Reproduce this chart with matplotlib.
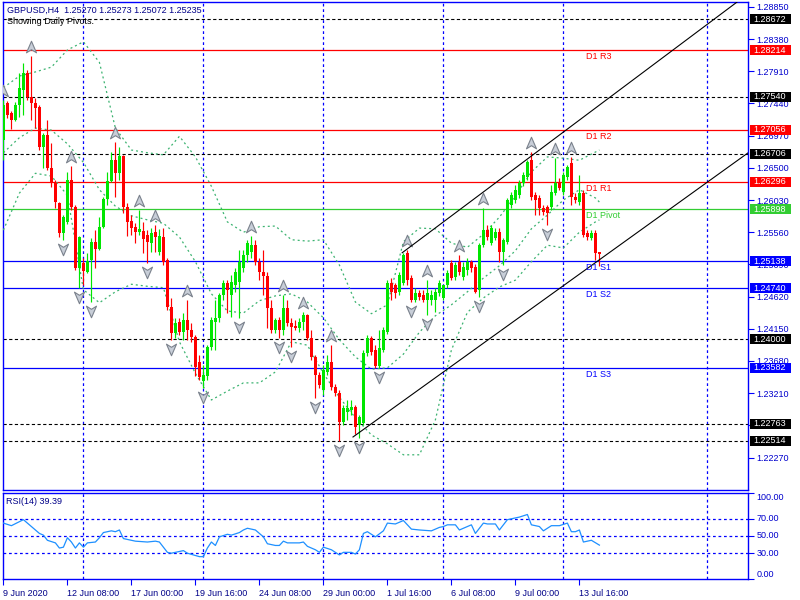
"""GBPUSD H4 chart with daily pivots, Bollinger bands, fractals, a price channel and RSI(14)."""

import matplotlib

matplotlib.use("Agg")
import matplotlib.pyplot as plt
import numpy as np
from matplotlib.patches import Rectangle
from matplotlib.path import Path
from matplotlib.transforms import blended_transform_factory, offset_copy

plt.rcParams["font.family"] = ["Liberation Sans", "DejaVu Sans"]

TITLE = "GBPUSD,H4  1.25270 1.25273 1.25072 1.25235"
SUBTITLE = "Showing Daily Pivots."
RSI_TITLE = "RSI(14) 39.39"

# H4 candles, 9 Jun 16:00 .. 14 Jul 12:00
opens = [
    1.2691, 1.2745, 1.2730, 1.2720, 1.2742, 1.2764, 1.2788, 1.2753, 1.2745, 1.2739,
    1.2680, 1.2698, 1.2650, 1.2628, 1.2599, 1.2555, 1.2571, 1.2632, 1.2593, 1.2504,
    1.2511, 1.2498, 1.2515, 1.2542, 1.2531, 1.2564, 1.2604, 1.2631, 1.2661, 1.2642,
    1.2667, 1.2593, 1.2572, 1.2564, 1.2556, 1.2558, 1.2552, 1.2540, 1.2556, 1.2527,
    1.2549, 1.2515, 1.2447, 1.2409, 1.2425, 1.2410, 1.2428, 1.2413, 1.2403, 1.2366,
    1.2339, 1.2346, 1.2388, 1.2425, 1.2431, 1.2464, 1.2482, 1.2464, 1.2479, 1.2483,
    1.2504, 1.2523, 1.2527, 1.2537, 1.2512, 1.2498, 1.2492, 1.2445, 1.2413, 1.2428,
    1.2413, 1.2445, 1.2423, 1.2419, 1.2416, 1.2425, 1.2435, 1.2402, 1.2374, 1.2348,
    1.2326, 1.2352, 1.2366, 1.2330, 1.2321, 1.2279, 1.2293, 1.2296, 1.2301, 1.2274,
    1.2277, 1.2380, 1.2402, 1.2384, 1.2361, 1.2384, 1.2410, 1.2482, 1.2479, 1.2469,
    1.2482, 1.2526, 1.2489, 1.2457, 1.2467, 1.2464, 1.2457, 1.2457, 1.2457, 1.2467,
    1.2460, 1.2479, 1.2511, 1.2491, 1.2512, 1.2491, 1.2501, 1.2512, 1.2505, 1.2472,
    1.2537, 1.2559, 1.2540, 1.2548, 1.2556, 1.2527, 1.2542, 1.2596, 1.2603, 1.2610,
    1.2628, 1.2637, 1.2661, 1.2610, 1.2606, 1.2591, 1.2593, 1.2593, 1.2613, 1.2628,
    1.2615, 1.2637, 1.2657, 1.2607, 1.2600, 1.2613, 1.2555, 1.2548, 1.2555, 1.25270,
]
highs = [
    1.2749, 1.2748, 1.2733, 1.2746, 1.2788, 1.2803, 1.2793, 1.2813, 1.2752, 1.2742,
    1.2701, 1.2720, 1.2686, 1.2632, 1.2600, 1.2581, 1.2644, 1.2653, 1.2596, 1.2550,
    1.2518, 1.2526, 1.2547, 1.2559, 1.2578, 1.2607, 1.2644, 1.2673, 1.2688, 1.2680,
    1.2669, 1.2599, 1.2581, 1.2569, 1.2588, 1.2571, 1.2559, 1.2562, 1.2566, 1.2561,
    1.2562, 1.2518, 1.2460, 1.2431, 1.2431, 1.2438, 1.2457, 1.2423, 1.2406, 1.2377,
    1.2362, 1.2391, 1.2432, 1.2457, 1.2467, 1.2486, 1.2486, 1.2494, 1.2504, 1.2530,
    1.2530, 1.2545, 1.2551, 1.2545, 1.2518, 1.2530, 1.2498, 1.2457, 1.2431, 1.2432,
    1.2464, 1.2457, 1.2431, 1.2428, 1.2431, 1.2439, 1.2437, 1.2413, 1.2377, 1.2352,
    1.2362, 1.2377, 1.2391, 1.2334, 1.2326, 1.2304, 1.2311, 1.2311, 1.2304, 1.2289,
    1.2384, 1.2406, 1.2404, 1.2391, 1.2413, 1.2418, 1.2486, 1.2489, 1.2482, 1.2498,
    1.2526, 1.2530, 1.2494, 1.2475, 1.2472, 1.2472, 1.2486, 1.2472, 1.2475, 1.2486,
    1.2479, 1.2501, 1.2515, 1.2512, 1.2523, 1.2512, 1.2518, 1.2515, 1.2510, 1.2540,
    1.2591, 1.2566, 1.2566, 1.2562, 1.2562, 1.2548, 1.2606, 1.2615, 1.2625, 1.2632,
    1.2644, 1.2661, 1.2673, 1.2615, 1.2610, 1.2596, 1.2596, 1.2625, 1.2664, 1.2635,
    1.2644, 1.2654, 1.2666, 1.2613, 1.2639, 1.2618, 1.2559, 1.2559, 1.2559, 1.25273,
]
lows = [
    1.2661, 1.2723, 1.2707, 1.2718, 1.2724, 1.2727, 1.2749, 1.2720, 1.2708, 1.2676,
    1.2650, 1.2647, 1.2622, 1.2591, 1.2549, 1.2545, 1.2568, 1.2588, 1.2501, 1.2475,
    1.2479, 1.2496, 1.2454, 1.2504, 1.2530, 1.2562, 1.2596, 1.2629, 1.2607, 1.2632,
    1.2584, 1.2550, 1.2552, 1.2540, 1.2552, 1.2526, 1.2511, 1.2527, 1.2527, 1.2523,
    1.2508, 1.2442, 1.2399, 1.2402, 1.2406, 1.2399, 1.2399, 1.2396, 1.2346, 1.2340,
    1.2329, 1.2340, 1.2384, 1.2384, 1.2425, 1.2457, 1.2438, 1.2432, 1.2469, 1.2431,
    1.2498, 1.2512, 1.2518, 1.2508, 1.2486, 1.2464, 1.2416, 1.2409, 1.2409, 1.2402,
    1.2406, 1.2419, 1.2388, 1.2413, 1.2410, 1.2413, 1.2399, 1.2369, 1.2314, 1.2329,
    1.2318, 1.2348, 1.2326, 1.2317, 1.2251, 1.2274, 1.2282, 1.2289, 1.2262, 1.2256,
    1.2274, 1.2375, 1.2377, 1.2358, 1.2358, 1.2381, 1.2407, 1.2457, 1.2460, 1.2464,
    1.2479, 1.2479, 1.2454, 1.2454, 1.2457, 1.2454, 1.2435, 1.2450, 1.2439, 1.2463,
    1.2457, 1.2475, 1.2486, 1.2486, 1.2493, 1.2486, 1.2493, 1.2498, 1.2467, 1.2461,
    1.2534, 1.2545, 1.2537, 1.2545, 1.2512, 1.2508, 1.2539, 1.2591, 1.2599, 1.2606,
    1.2623, 1.2632, 1.2603, 1.2581, 1.2581, 1.2581, 1.2567, 1.2588, 1.2610, 1.2618,
    1.2610, 1.2632, 1.2596, 1.2599, 1.2596, 1.2549, 1.2545, 1.2545, 1.2515, 1.25072,
]
closes = [
    1.2742, 1.2727, 1.2720, 1.2742, 1.2767, 1.2788, 1.2753, 1.2745, 1.2737, 1.2680,
    1.2698, 1.2650, 1.2629, 1.2600, 1.2555, 1.2578, 1.2632, 1.2593, 1.2504, 1.2549,
    1.2499, 1.2514, 1.2542, 1.2531, 1.2564, 1.2604, 1.2631, 1.2661, 1.2642, 1.2667,
    1.2593, 1.2571, 1.2562, 1.2556, 1.2561, 1.2546, 1.2542, 1.2555, 1.2549, 1.2550,
    1.2512, 1.2447, 1.2409, 1.2423, 1.2410, 1.2428, 1.2413, 1.2403, 1.2359, 1.2345,
    1.2348, 1.2388, 1.2428, 1.2431, 1.2464, 1.2482, 1.2472, 1.2483, 1.2498, 1.2512,
    1.2523, 1.2540, 1.2537, 1.2512, 1.2498, 1.2492, 1.2445, 1.2413, 1.2428, 1.2413,
    1.2445, 1.2423, 1.2418, 1.2416, 1.2425, 1.2435, 1.2402, 1.2374, 1.2348, 1.2333,
    1.2355, 1.2366, 1.2330, 1.2321, 1.2279, 1.2299, 1.2299, 1.2301, 1.2271, 1.2286,
    1.2380, 1.2402, 1.2381, 1.2361, 1.2387, 1.2413, 1.2482, 1.2469, 1.2467, 1.2493,
    1.2523, 1.2486, 1.2457, 1.2467, 1.2461, 1.2457, 1.2467, 1.2464, 1.2469, 1.2482,
    1.2479, 1.2496, 1.2489, 1.2508, 1.2498, 1.2505, 1.2512, 1.2504, 1.2469, 1.2537,
    1.2559, 1.2549, 1.2562, 1.2556, 1.2527, 1.2545, 1.2603, 1.2610, 1.2618, 1.2628,
    1.2639, 1.2658, 1.2607, 1.2603, 1.2591, 1.2585, 1.2584, 1.2615, 1.2628, 1.2620,
    1.2639, 1.2651, 1.2607, 1.2603, 1.2613, 1.2552, 1.2549, 1.2555, 1.2526, 1.25235,
]

# Bollinger bands, read every 4 bars
band_bars = [
    0, 4, 8, 12, 16, 20, 24, 28, 32, 36, 40, 44, 48, 52, 56, 60, 64, 68, 72, 76,
    80, 84, 88, 92, 96, 100, 104, 108, 112, 116, 120, 124, 128, 132, 136, 140, 144, 148, 149,
]
upper_band = [
    1.2767, 1.2784, 1.2790, 1.2797, 1.2822, 1.2834, 1.2804, 1.2708, 1.2676, 1.2672,
    1.2669, 1.2696, 1.2666, 1.2623, 1.2571, 1.2556, 1.2564, 1.2565, 1.2545, 1.2543,
    1.2545, 1.2508, 1.2454, 1.2437, 1.2450, 1.2542, 1.2562, 1.2561, 1.2540, 1.2534,
    1.2553, 1.2578, 1.2609, 1.2644, 1.2666, 1.2664, 1.2661, 1.2673, 1.2676,
]
middle_band = [
    1.2672, 1.2694, 1.2708, 1.2705, 1.2685, 1.2658, 1.2618, 1.2594, 1.2580, 1.2574,
    1.2569, 1.2549, 1.2513, 1.2466, 1.2441, 1.2438, 1.2456, 1.2463, 1.2466, 1.2454,
    1.2431, 1.2399, 1.2374, 1.2356, 1.2358, 1.2378, 1.2410, 1.2434, 1.2450, 1.2469,
    1.2489, 1.2507, 1.2529, 1.2561, 1.2581, 1.2603, 1.2618, 1.2606, 1.2600,
]
lower_band = [
    1.2559, 1.2613, 1.2642, 1.2638, 1.2610, 1.2472, 1.2453, 1.2469, 1.2480, 1.2477,
    1.2475, 1.2396, 1.2350, 1.2311, 1.2324, 1.2336, 1.2336, 1.2352, 1.2396, 1.2391,
    1.2350, 1.2315, 1.2285, 1.2260, 1.2247, 1.2231, 1.2231, 1.2282, 1.2384, 1.2439,
    1.2460, 1.2476, 1.2486, 1.2513, 1.2537, 1.2533, 1.2556, 1.2571, 1.2574,
]

fractal_up_bars = [0, 7, 17, 28, 34, 38, 46, 62, 70, 75, 82, 101, 106, 114, 120, 132, 138, 142]
fractal_down_bars = [15, 19, 22, 36, 42, 50, 59, 69, 72, 78, 84, 89, 94, 102, 106, 119, 125, 136]

pivot_names = ["D1 R3", "D1 R2", "D1 R1", "D1 Pivot", "D1 S1", "D1 S2", "D1 S3"]
pivot_levels = [1.28214, 1.27056, 1.26296, 1.25898, 1.25138, 1.24740, 1.23582]
pivot_colors = ["#ff0000", "#ff0000", "#ff0000", "#32cd32", "#0000ff", "#0000ff", "#0000ff"]
dashed_levels = [1.28672, 1.27540, 1.26706, 1.24000, 1.22763, 1.22514]

channel_upper_bars = [99.7, 183.4]
channel_upper_prices = [1.2526, 1.2892]
channel_lower_bars = [87.4, 186.2]
channel_lower_prices = [1.2257, 1.2672]

price_ticks = [
    1.28850, 1.28380, 1.27910, 1.27440, 1.26970, 1.26500, 1.26030, 1.25560,
    1.25090, 1.24620, 1.24150, 1.23680, 1.23210, 1.22740, 1.22270,
]

week_grid_bars = [20, 50, 80, 110, 140, 176]
date_tick_bars = [0, 16, 32, 48, 64, 80, 96, 112, 128, 144]
date_labels = [
    "9 Jun 2020", "12 Jun 08:00", "17 Jun 00:00", "19 Jun 16:00", "24 Jun 08:00",
    "29 Jun 00:00", "1 Jul 16:00", "6 Jul 08:00", "9 Jul 00:00", "13 Jul 16:00",
]

rsi_bars = [
    0, 2, 5, 6, 7, 9, 10, 11, 13, 14, 15, 16, 17, 18, 19, 20, 21, 23, 24, 25,
    27, 28, 29, 30, 33, 36, 38, 39, 41, 42, 45, 46, 49, 50, 51, 52, 53, 54, 56, 57,
    59, 60, 61, 63, 64, 65, 66, 68, 69, 70, 71, 74, 75, 76, 78, 79, 80, 82, 84, 85,
    87, 88, 89, 90, 91, 93, 95, 96, 98, 100, 102, 104, 107, 109, 110, 111, 113, 114, 116, 117,
    118, 120, 121, 123, 124, 126, 127, 129, 131, 132, 134, 135, 137, 139, 141, 142, 143, 144, 145, 146,
    147, 149,
]
rsi_values = [
    65, 62, 69, 65, 61, 53, 51, 45, 42, 36, 37, 48, 43, 36, 42, 37, 42, 43, 48, 54,
    56, 55, 57, 47, 44, 43, 44, 43, 31, 30, 33, 30, 26, 26, 36, 43, 39, 49, 52, 51,
    54, 57, 59, 57, 53, 49, 41, 39, 39, 44, 42, 42, 43, 38, 34, 31, 37, 34, 28, 31,
    31, 29, 34, 53, 55, 49, 56, 65, 64, 68, 58, 57, 56, 60, 61, 63, 63, 57, 61, 63,
    53, 65, 64, 64, 57, 69, 70, 72, 75, 63, 61, 56, 62, 62, 65, 55, 55, 57, 43, 44,
    45, 39.39,
]
rsi_levels = [70, 50, 30]
rsi_ticks = [100, 70, 50, 30, 0]

UP_COLOR = "#00e600"
DOWN_COLOR = "#ff0000"
FRAME_BLUE = "#0000ff"
GRID_BLUE = "#0000ff"
LABEL_BLUE = "#0000cd"
TEXT_NAVY = "#000088"
BAND_GREEN = "#3cb371"

W, H = 800, 600
PLOT_LEFT, PLOT_RIGHT = 3, 748
MAIN_TOP, MAIN_BOTTOM = 2, 490
RSI_TOP, RSI_BOTTOM = 493, 579
X_LIMITS = (-0.1, 186.15)
Y_LIMITS = (1.21796, 1.28921)


def main() -> None:
    o, h, l, c = (np.array(v, dtype=float) for v in (opens, highs, lows, closes))
    bars = np.arange(len(o))

    fig = plt.figure(figsize=(W / 100, H / 100), dpi=100)
    fig.patch.set_facecolor("white")
    ax = fig.add_axes([
        PLOT_LEFT / W, 1 - MAIN_BOTTOM / H,
        (PLOT_RIGHT - PLOT_LEFT) / W, (MAIN_BOTTOM - MAIN_TOP) / H,
    ])
    rsi_ax = fig.add_axes([
        PLOT_LEFT / W, 1 - RSI_BOTTOM / H,
        (PLOT_RIGHT - PLOT_LEFT) / W, (RSI_BOTTOM - RSI_TOP) / H,
    ], sharex=ax)

    for a in (ax, rsi_ax):
        for spine in a.spines.values():
            spine.set_color(FRAME_BLUE)
            spine.set_linewidth(1.0)
        for b in week_grid_bars:
            a.axvline(b, color=GRID_BLUE, lw=0.9, dashes=(2.2, 2.2), zorder=1)

    ax.set_xlim(*X_LIMITS)
    ax.set_ylim(*Y_LIMITS)

    # horizontal levels
    for level in dashed_levels:
        ax.axhline(level, color="black", lw=0.8, dashes=(2.9, 2.2), zorder=2)
    for level, color in zip(pivot_levels, pivot_colors):
        ax.axhline(level, color=color, lw=0.9, zorder=2)

    # bollinger bands
    for band in (upper_band, middle_band, lower_band):
        ax.plot(band_bars, band, color=BAND_GREEN, lw=0.9, dashes=(1.6, 2.4), zorder=3)

    # candles
    colors = np.where(c >= o, UP_COLOR, DOWN_COLOR)
    ax.vlines(bars, l, h, colors=colors, lw=0.85, zorder=4)
    ax.bar(bars, np.abs(c - o), bottom=np.minimum(o, c), width=0.7,
           color=colors, linewidth=0, zorder=4)

    # fractals
    up_marker = Path(
        [(0, 1), (0.8, -0.85), (0, -0.35), (-0.8, -0.85), (0, 1)],
        [Path.MOVETO, Path.LINETO, Path.LINETO, Path.LINETO, Path.CLOSEPOLY],
    )
    down_marker = Path(
        [(0, -1), (0.8, 0.85), (0, 0.35), (-0.8, 0.85), (0, -1)],
        [Path.MOVETO, Path.LINETO, Path.LINETO, Path.LINETO, Path.CLOSEPOLY],
    )
    above = offset_copy(ax.transData, fig=fig, y=9, units="dots")
    below = offset_copy(ax.transData, fig=fig, y=-9, units="dots")
    ax.plot(fractal_up_bars, h[fractal_up_bars], ls="none", marker=up_marker, ms=9,
            mfc="#c8ced8", mec="#7b828d", mew=0.8, transform=above, zorder=5)
    ax.plot(fractal_down_bars, l[fractal_down_bars], ls="none", marker=down_marker, ms=9,
            mfc="#c8ced8", mec="#7b828d", mew=0.8, transform=below, zorder=5)

    # channel
    ax.plot(channel_upper_bars, channel_upper_prices, color="black", lw=0.8, zorder=6)
    ax.plot(channel_lower_bars, channel_lower_prices, color="black", lw=0.8, zorder=6)

    # pivot labels
    label_trans = offset_copy(ax.transData, fig=fig, y=-2, units="dots")
    for name, level, color in zip(pivot_names, pivot_levels, pivot_colors):
        ax.text(145.7, level, name, color=color, fontsize=6.5, ha="left", va="top",
                transform=label_trans, zorder=7)

    # right price scale
    ax.yaxis.tick_right()
    ax.set_yticks(price_ticks)
    ax.set_yticklabels([f"{t:.5f}" for t in price_ticks])
    ax.tick_params(axis="y", direction="out", length=4, width=0.8, color=FRAME_BLUE,
                   labelcolor=LABEL_BLUE, labelsize=6.5, pad=2)
    ax.tick_params(axis="x", bottom=False, labelbottom=False)

    # price tags
    tag_trans = blended_transform_factory(ax.transAxes, ax.transData)
    px_price = (Y_LIMITS[1] - Y_LIMITS[0]) / (MAIN_BOTTOM - MAIN_TOP)
    span = PLOT_RIGHT - PLOT_LEFT
    tags = [(lvl, "black") for lvl in dashed_levels] + list(zip(pivot_levels, pivot_colors))
    for level, color in tags:
        ax.add_patch(Rectangle((1 + 2 / span, level - 5 * px_price), 41 / span, 10 * px_price,
                               transform=tag_trans, facecolor=color, edgecolor="none",
                               clip_on=False, zorder=9))
        ax.text(1 + 5 / span, level, f"{level:.5f}", transform=tag_trans, color="white",
                fontsize=6.5, ha="left", va="center", clip_on=False, zorder=10)

    fig.text(7 / W, 1 - 10 / H, TITLE, fontsize=6.5, color=TEXT_NAVY, va="center")
    fig.text(7 / W, 1 - 21 / H, SUBTITLE, fontsize=6.5, color="black", va="center")

    # RSI panel
    rsi_ax.plot(rsi_bars, rsi_values, color="#1e90ff", lw=0.9, zorder=3)
    for lvl in rsi_levels:
        rsi_ax.axhline(lvl, color=GRID_BLUE, lw=0.9, dashes=(2.2, 2.2), zorder=1)
    rsi_ax.set_ylim(0, 100)
    rsi_ax.yaxis.tick_right()
    rsi_ax.set_yticks(rsi_ticks)
    rsi_ax.set_yticklabels([f"{t:.2f}" for t in rsi_ticks])
    rsi_ax.tick_params(axis="y", direction="out", length=4, width=0.8, color=FRAME_BLUE,
                       labelcolor=LABEL_BLUE, labelsize=6.5, pad=2)
    for lab, va in zip(rsi_ax.get_yticklabels(), ["top", "center", "center", "center", "bottom"]):
        lab.set_va(va)
    rsi_ax.set_xticks(date_tick_bars)
    rsi_ax.set_xticklabels(date_labels, ha="left")
    rsi_ax.tick_params(axis="x", direction="out", length=4, width=0.8, color=FRAME_BLUE,
                       labelcolor=TEXT_NAVY, labelsize=6.5, pad=3)
    fig.text(6 / W, 1 - 502 / H, RSI_TITLE, fontsize=6.5, color=TEXT_NAVY, va="center")

    fig.savefig("out.png", dpi=100)
    plt.close(fig)


if __name__ == "__main__":
    main()
